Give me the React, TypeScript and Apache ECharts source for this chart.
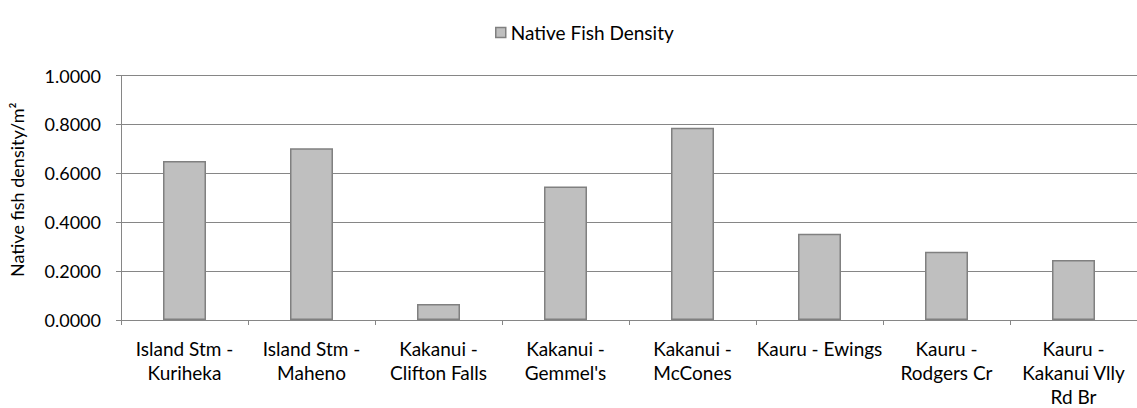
import React, { useEffect, useRef } from "react";
import * as echarts from "echarts";

const categories = [
  "Island Stm -\nKuriheka",
  "Island Stm -\nMaheno",
  "Kakanui -\nClifton Falls",
  "Kakanui -\nGemmel's",
  "Kakanui -\nMcCones",
  "Kauru - Ewings",
  "Kauru -\nRodgers Cr",
  "Kauru -\nKakanui Vlly\nRd Br",
];
const densityValues = [0.65, 0.702, 0.065, 0.546, 0.786, 0.353, 0.279, 0.245];
const seriesName = "Native Fish Density";
const yAxisName = "Native fish density/m²";

const FONT = "Lato";
const FS = 19;

export default function App() {
  const ref = useRef<HTMLDivElement>(null);
  useEffect(() => {
    if (!ref.current) return;
    const chart = echarts.init(ref.current, undefined, { renderer: "svg" });
    chart.setOption({
      animation: false,
      backgroundColor: "#ffffff",
      textStyle: { fontFamily: FONT },
      legend: {
        top: 18,
        left: 490,
        itemWidth: 10,
        itemHeight: 10,
        itemGap: 6,
        icon: "rect",
        itemStyle: { borderColor: "#808080", borderWidth: 1.5 },
        textStyle: { fontFamily: FONT, fontSize: FS, color: "#000" },
        data: [seriesName],
      },
      grid: { left: 121, right: -11, top: 75.5, bottom: 86, containLabel: false },
      xAxis: {
        type: "category",
        data: categories,
        axisLine: { lineStyle: { color: "#868686", width: 1 } },
        axisTick: { show: true, length: 5, lineStyle: { color: "#868686" }, alignWithLabel: false },
        axisLabel: {
          interval: 0,
          fontFamily: FONT,
          fontSize: FS,
          color: "#000",
          lineHeight: 24,
          margin: 16,
        },
        splitLine: { show: false },
      },
      yAxis: {
        type: "value",
        min: 0,
        max: 1,
        interval: 0.2,
        name: yAxisName,
        nameLocation: "middle",
        nameGap: 95,
        nameTextStyle: { fontFamily: FONT, fontSize: 18, color: "#000", padding: [0, 0, 0, 16] },
        axisLine: { show: true, lineStyle: { color: "#868686", width: 1 } },
        axisTick: { show: true, length: 5, lineStyle: { color: "#868686" } },
        axisLabel: {
          formatter: (v: number) => v.toFixed(4),
          fontFamily: FONT,
          fontSize: 18,
          color: "#000",
          margin: 20,
        },
        splitLine: { show: true, lineStyle: { color: "#868686", width: 1 } },
      },
      series: [
        {
          name: seriesName,
          type: "bar",
          data: densityValues,
          barWidth: 43,
          itemStyle: { color: "#bfbfbf", borderColor: "#808080", borderWidth: 1.5 },
        },
      ],
    });
    return () => chart.dispose();
  }, []);
  return (
    <div
      ref={ref}
      style={{ position: "fixed", left: 0, top: 0, width: 1137, height: 408, background: "#fff" }}
    />
  );
}
